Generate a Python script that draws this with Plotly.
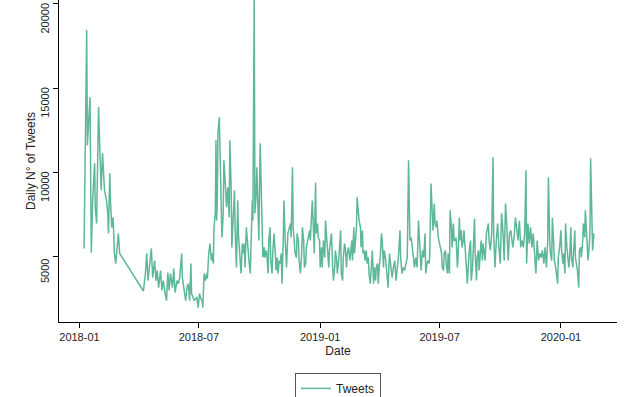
import pandas as pd
import plotly.graph_objects as go

# Days since 2018-01-01
day_offsets = [
    7, 11, 12, 16, 18, 20, 23, 24, 26, 29, 30, 33, 35, 37, 38, 41, 43, 44, 46, 47,
    49, 51, 53, 55, 57, 59, 61, 97, 100, 102, 104, 106, 109, 111, 114, 116, 118, 120, 123, 125,
    127, 130, 132, 134, 136, 138, 141, 143, 145, 148, 150, 152, 155, 156, 158, 161, 163, 165, 167, 169,
    170, 172, 174, 176, 178, 180, 182, 184, 186, 187, 189, 191, 193, 194, 196, 198, 200, 201, 203, 204,
    206, 207, 208, 209, 210, 212, 214, 216, 218, 219, 222, 223, 225, 227, 228, 230, 231, 233, 235, 236,
    238, 240, 241, 243, 245, 247, 248, 250, 251, 253, 255, 257, 259, 261, 262, 263, 265, 266, 268, 269,
    271, 272, 274, 275, 277, 278, 280, 281, 283, 284, 286, 287, 289, 290, 292, 293, 295, 297, 298, 300,
    301, 303, 304, 306, 307, 309, 310, 312, 314, 316, 318, 320, 321, 323, 324, 326, 327, 329, 330, 332,
    333, 335, 337, 338, 340, 341, 343, 344, 346, 347, 349, 350, 352, 353, 355, 356, 358, 359, 361, 362,
    364, 365, 367, 368, 370, 372, 373, 375, 376, 378, 379, 381, 382, 384, 385, 387, 388, 390, 391, 393,
    394, 396, 397, 399, 400, 402, 403, 405, 406, 408, 410, 411, 413, 414, 416, 417, 419, 420, 421, 423,
    424, 426, 427, 429, 430, 432, 433, 435, 436, 438, 439, 441, 443, 444, 446, 447, 449, 450, 452, 453,
    455, 456, 458, 459, 461, 462, 464, 466, 468, 470, 472, 474, 476, 478, 480, 482, 484, 486, 487, 489,
    491, 493, 495, 497, 499, 501, 503, 505, 508, 510, 512, 514, 516, 518, 520, 522, 524, 525, 527, 528,
    530, 531, 533, 535, 536, 538, 539, 541, 542, 544, 545, 547, 549, 550, 552, 553, 555, 556, 558, 559,
    561, 562, 564, 565, 567, 568, 570, 571, 573, 574, 576, 577, 579, 580, 582, 583, 585, 587, 588, 590,
    591, 593, 594, 596, 597, 599, 600, 602, 603, 605, 606, 608, 609, 611, 612, 614, 615, 617, 618, 620,
    621, 623, 625, 627, 628, 630, 632, 634, 636, 638, 640, 642, 644, 646, 648, 650, 652, 654, 657, 659,
    661, 663, 665, 667, 669, 671, 673, 675, 677, 678, 680, 682, 684, 686, 688, 690, 692, 694, 696, 698,
    700, 702, 704, 706, 708, 710, 711, 713, 714, 716, 717, 719, 720, 722, 723, 725, 726, 728, 730, 731,
    733, 734, 736, 737, 739, 740, 742, 743, 745, 746, 748, 749, 751, 752, 754, 755, 757, 758, 760, 761,
    763, 764, 766, 767, 769, 771, 772, 774, 775, 777, 778, 780,
]

tweets = [
    5475, 18450, 11600, 14460, 5240, 8330, 10530, 7900, 6960, 13870, 12500, 8930, 11130, 9520, 8930, 8330, 7560, 6370, 9940, 8330,
    6730, 7320, 5180, 4580, 5540, 6370, 5180, 2950, 3990, 5180, 3570, 4350, 5480, 3750, 4760, 3570, 4170, 3150, 4170, 2980,
    3570, 2800, 2380, 4050, 2980, 3990, 3150, 4290, 2860, 3570, 3390, 3750, 5180, 3750, 3150, 2380, 3150, 3390, 2380, 4580,
    2800, 2560, 2380, 2500, 2560, 1960, 2800, 2500, 2380, 1960, 3990, 3570, 3990, 3690, 5180, 5770, 4760, 5180, 4580, 6730,
    7560, 11900, 7140, 8330, 12320, 13270, 10300, 6130, 7560, 10710, 8750, 7920, 9110, 7320, 11900, 9110, 5540, 7560, 8930, 6730,
    4350, 8330, 6370, 5180, 3990, 5770, 5180, 5770, 4350, 6730, 5360, 4760, 3990, 7560, 8330, 7140, 20600, 7560, 8750, 10300,
    7560, 5950, 11720, 9110, 6730, 4940, 5540, 4940, 5360, 5180, 3990, 5950, 6730, 4760, 3990, 5180, 6370, 5180, 4170, 4940,
    3990, 4760, 4580, 5180, 3390, 5950, 8330, 5950, 4350, 6370, 6730, 6960, 6130, 10300, 6730, 5540, 5180, 4940, 6370, 5950,
    4760, 3990, 5180, 6730, 5950, 4350, 4580, 5540, 5950, 6370, 6550, 5950, 7140, 8330, 6370, 5180, 9400, 6370, 6960, 6130,
    5950, 4350, 5540, 4350, 5950, 4940, 7140, 5950, 4940, 4350, 5360, 5950, 6370, 4350, 3570, 4350, 5360, 4760, 3990, 4760,
    5540, 6550, 3990, 3570, 4940, 5770, 5540, 4350, 5180, 5540, 4760, 5360, 5950, 4760, 6730, 5180, 5950, 6730, 8510, 7320,
    7140, 6730, 5540, 6550, 5180, 5360, 4760, 5360, 4580, 4940, 3990, 3390, 4940, 5360, 3390, 4350, 3570, 4350, 4580, 3390,
    4580, 4940, 6370, 5950, 4350, 5360, 4940, 3990, 3150, 5180, 4580, 3750, 4350, 4760, 3570, 4350, 5180, 6550, 4940, 3990,
    4350, 4170, 4580, 4940, 10710, 5950, 6130, 5540, 4350, 4940, 4350, 7140, 5950, 4170, 5360, 4940, 6370, 3990, 4580, 4760,
    4580, 4940, 9340, 7740, 6550, 8150, 6960, 6730, 7140, 6130, 5950, 5540, 5180, 4350, 4170, 5180, 5360, 4580, 3990, 5180,
    3990, 7740, 6730, 5540, 6960, 5950, 5950, 6130, 4350, 4940, 7320, 5950, 6550, 5540, 5950, 6550, 5540, 4170, 3390, 4760,
    5360, 5950, 3570, 4350, 5770, 7260, 5180, 3570, 4940, 5360, 4170, 5180, 5950, 4760, 5770, 5180, 4760, 6370, 6550, 6960,
    5950, 5360, 6370, 10890, 6370, 4350, 5950, 6960, 5540, 4580, 7560, 6550, 4760, 8150, 6730, 4760, 6370, 6550, 5540, 6130,
    7320, 6730, 5950, 7140, 5540, 5950, 5540, 6370, 10120, 4580, 6960, 5770, 6730, 5540, 6370, 5180, 3990, 5950, 4760, 5180,
    4940, 5360, 4580, 5540, 4350, 5950, 9700, 5950, 5180, 4760, 7320, 5770, 4760, 4350, 3990, 3390, 4940, 5540, 6550, 5360,
    4580, 5180, 3990, 6960, 5540, 4940, 4350, 4760, 6730, 4940, 4350, 5180, 6550, 4940, 4350, 4170, 3150, 5360, 5540, 4940,
    5950, 6960, 6130, 7740, 6370, 4760, 5180, 6370, 10830, 7140, 5360, 6370,
]

x_tick_dates = ["2018-01-01", "2018-07-01", "2019-01-01", "2019-07-01", "2020-01-01"]
x_tick_labels = ["2018-01", "2018-07", "2019-01", "2019-07", "2020-01"]
y_tick_vals = [5000, 10000, 15000, 20000]
y_tick_labels = ["5000", "10000", "15000", "20000"]

dates = pd.Timestamp("2018-01-01") + pd.to_timedelta(day_offsets, unit="D")

FONT = "Liberation Sans, Arial, Helvetica, sans-serif"
COLOR = "#5cb896"
TEXT = "#222222"

fig = go.Figure()
fig.add_trace(go.Scatter(
    x=dates, y=tweets, mode="lines", name="Tweets",
    line=dict(color=COLOR, width=1.5),
))

fig.update_layout(
    width=640, height=397,
    margin=dict(l=59, r=23, t=0, b=75, autoexpand=False),
    paper_bgcolor="white", plot_bgcolor="white",
    font=dict(family=FONT, size=11, color=TEXT),
    showlegend=True,
    legend=dict(
        orientation="h", x=0.5, xanchor="center", y=-0.158, yanchor="top",
        bordercolor="#555555", borderwidth=1, bgcolor="white",
        font=dict(family=FONT, size=12, color=TEXT),
        itemwidth=30,
    ),
)

fig.update_xaxes(
    range=["2017-12-01", "2020-03-26"],
    tickvals=x_tick_dates, ticktext=x_tick_labels,
    showline=True, linecolor="black", linewidth=1.2,
    ticks="outside", ticklen=5, tickcolor="black", tickwidth=1,
    showgrid=False, zeroline=False, automargin=False,
    title=dict(text="Date", font=dict(size=12, color=TEXT), standoff=4),
    tickfont=dict(size=11, color=TEXT),
)

fig.update_yaxes(
    range=[1110, 20232],
    tickvals=y_tick_vals, ticktext=y_tick_labels, tickangle=-90,
    ticklabelshift=16, ticklabeloverflow="allow",
    showline=True, linecolor="black", linewidth=1.2,
    ticks="outside", ticklen=5, tickcolor="black", tickwidth=1,
    showgrid=False, zeroline=False, automargin=False,
    title=dict(text="Daily N° of Tweets", font=dict(size=12, color=TEXT), standoff=0),
    tickfont=dict(size=11, color=TEXT),
)

fig.write_html(
    "out.html",
    config={"displayModeBar": False},
    post_script="document.body.style.margin='0';document.body.style.padding='0';",
)
